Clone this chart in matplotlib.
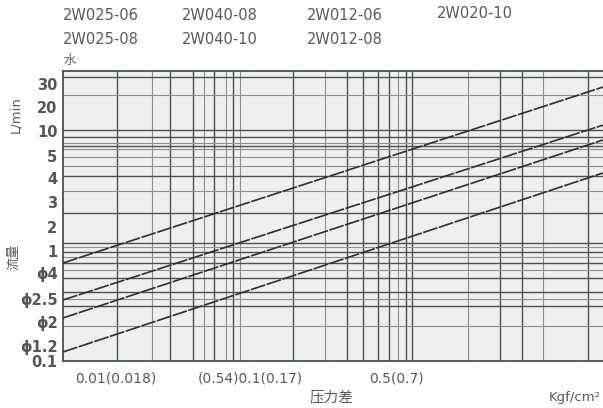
import matplotlib
matplotlib.use("Agg")
import matplotlib.pyplot as plt
from matplotlib.ticker import FixedLocator, NullLocator, FixedFormatter

# ---- data (log-log) ----
x_range = [0.004, 21.2]                 # pressure difference span
line_dp = [0.004, 21.2]
flow_phi4 = [0.70, 23.0]
flow_phi25 = [0.336, 10.8]
flow_phi2 = [0.235, 8.04]
flow_phi12 = [0.1196, 4.18]
y_range = [0.1, 31.62]

vgrid_major = [0.0094, 0.0219, 0.0315, 0.044, 0.0595, 0.154, 0.364, 0.469,
               0.594, 0.708, 0.928, 1.021, 4.13, 5.86, 16.7]
vgrid_minor = [0.0164, 0.0375, 0.053, 0.0665, 0.256, 0.818, 2.48, 8.17]
hgrid_major = [28.1, 9.8, 8.5, 7.1, 3.9, 1.9, 1.04, 0.87, 0.70, 0.52, 0.39, 0.30]
hgrid_minor = [19.6, 7.6, 6.7, 5.7, 4.8, 2.9, 0.96, 0.79, 0.61, 0.34, 0.20]

ytick_pos = [24.4, 15.5, 9.6, 5.85, 3.78, 2.35, 1.43, 0.888, 0.574, 0.342, 0.217, 0.135, 0.1]
ytick_lab = ["30", "20", "10", "5", "4", "3", "2", "1", "ϕ4", "ϕ2.5", "ϕ2", "ϕ1.2", "0.1"]

header_row1 = ["2W025-06", "2W040-08", "2W012-06"]
header_row2 = ["2W025-08", "2W040-10", "2W012-08"]
header_extra = "2W020-10"
xlabels = ["0.01(0.018)", "(0.54)0.1(0.17)", "0.5(0.7)"]

W, H = 603, 408
fig = plt.figure(figsize=(W / 100, H / 100), dpi=100)
fig.patch.set_facecolor("white")
ax = fig.add_axes([63 / W, (H - 361) / H, 540 / W, 290 / H])
ax.set_facecolor("#efefef")
ax.set_xscale("log")
ax.set_yscale("log")
ax.set_xlim(*x_range)
ax.set_ylim(*y_range)

gc_major = "#46534a"
gc_minor = "#87928a"
for v in vgrid_major:
    ax.axvline(v, color=gc_major, lw=1.0, zorder=1)
for v in vgrid_minor:
    ax.axvline(v, color=gc_minor, lw=0.8, zorder=1)
for v in hgrid_major:
    ax.axhline(v, color=gc_major, lw=1.0, zorder=1)
for v in hgrid_minor:
    ax.axhline(v, color=gc_minor, lw=0.8, zorder=1)

for fl in [flow_phi4, flow_phi25, flow_phi2, flow_phi12]:
    ax.plot(line_dp, fl, color="#2a302b", lw=1.2, dashes=(9, 0.9), zorder=3)

for s in ["top", "left", "bottom"]:
    ax.spines[s].set_color("#46534a")
    ax.spines[s].set_linewidth(1.3)
ax.spines["right"].set_visible(False)

ax.xaxis.set_major_locator(NullLocator())
ax.xaxis.set_minor_locator(NullLocator())
ax.yaxis.set_major_locator(FixedLocator(ytick_pos))
ax.yaxis.set_major_formatter(FixedFormatter(ytick_lab))
ax.yaxis.set_minor_locator(NullLocator())
ax.tick_params(axis="y", length=0, pad=4, labelsize=10.5, labelcolor="#555555")
for t in ax.get_yticklabels():
    t.set_fontweight("semibold")

tc = "#5a5a5a"
fam = ["DejaVu Sans", "Noto Sans CJK SC"]
def px(x, y, s, **kw):
    fig.text(x / W, 1 - y / H, s, color=tc, family=fam, **kw)

hx = [63, 182, 307]
for x, a, b in zip(hx, header_row1, header_row2):
    px(x, 16, a, fontsize=10.5, va="center", ha="left")
    px(x, 39, b, fontsize=10.5, va="center", ha="left")
px(437, 13, header_extra, fontsize=10.5, va="center", ha="left")

px(70, 60, "水", fontsize=9, va="center", ha="center")
px(16, 115, "L/min", fontsize=9.5, va="center", ha="center", rotation=90)
px(14, 257, "流量", fontsize=9.5, va="center", ha="center", rotation=90)

px(75, 378, xlabels[0], fontsize=10, va="center", ha="left")
px(198, 378, xlabels[1], fontsize=10, va="center", ha="left")
px(369, 378, xlabels[2], fontsize=10, va="center", ha="left")
px(310, 397, "压力差", fontsize=10.5, va="center", ha="left")
px(601, 397, "Kgf/cm²", fontsize=9.5, va="center", ha="right")

fig.savefig("out.png", dpi=100)
